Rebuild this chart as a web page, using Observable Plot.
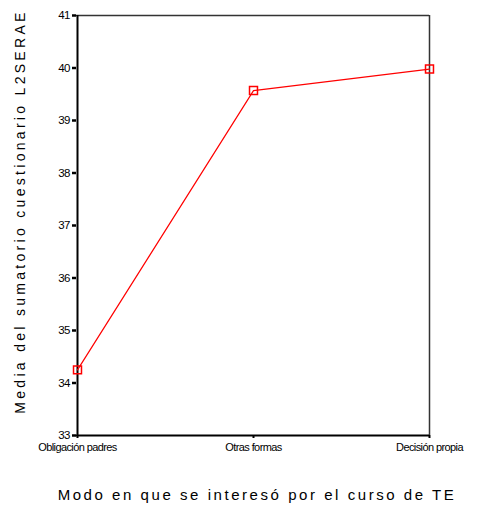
<!DOCTYPE html>
<html>
<head>
<meta charset="utf-8">
<script src="https://cdn.jsdelivr.net/npm/d3@7"></script>
<script src="https://cdn.jsdelivr.net/npm/@observablehq/plot@0.6"></script>
<style>
  html, body { margin: 0; padding: 0; background: #fff; }
  svg { display: block; }
  .ytitle text { letter-spacing: 3.3px; }
  .xtitle text { letter-spacing: 2.55px; }
  .yax text { letter-spacing: -0.8px; }
  .xax text { letter-spacing: -0.6px; }
</style>
</head>
<body>
<div id="chart"></div>
<script>
const categories = ["Obligación padres", "Otras formas", "Decisión propia"];
const means = [34.25, 39.57, 39.98];
const yTicks = [33, 34, 35, 36, 37, 38, 39, 40, 41];
const xTitle = "Modo en que se interesó por el curso de TE";
const yTitle = "Media del sumatorio cuestionario L2SERAE";

const data = categories.map((c, i) => ({cat: c, v: means[i]}));

const chart = Plot.plot({
  width: 481,
  height: 508,
  marginLeft: 76,
  marginRight: 52,
  marginTop: 15,
  marginBottom: 73,
  style: {fontFamily: "Liberation Sans, Arial, sans-serif", background: "#fff"},
  x: {type: "point", domain: categories, padding: 0, label: null},
  y: {domain: [33, 41], label: null},
  marks: [
    Plot.ruleY([41], {stroke: "#333", strokeWidth: 1.5}),
    Plot.ruleX([categories[2]], {stroke: "#333", strokeWidth: 1.5}),
    Plot.axisY({ticks: yTicks, tickSize: 4, tickPadding: 3, fontSize: 11.5, stroke: "#000", strokeWidth: 2.5, tickFormat: d => d, className: "yax"}),
    Plot.axisX({tickSize: 3, tickPadding: 5, fontSize: 11, stroke: "#000", strokeWidth: 2, className: "xax"}),
    Plot.ruleX([categories[0]], {stroke: "#000", strokeWidth: 2}),
    Plot.ruleY([33], {stroke: "#000", strokeWidth: 2}),
    Plot.line(data, {x: "cat", y: "v", stroke: "#ff0000", strokeWidth: 1.2}),
    Plot.dot(data, {x: "cat", y: "v", symbol: "square", r: 4.5, stroke: "#ff0000", strokeWidth: 1.5, fill: "none"}),
    Plot.text([xTitle], {frameAnchor: "bottom", dy: 64, fontSize: 15, fill: "#000", dx: 4, className: "xtitle"}),
    Plot.text([yTitle], {frameAnchor: "left", textAnchor: "middle", dx: -56, dy: -14, rotate: -90, fontSize: 14, fill: "#000", className: "ytitle"})
  ]
});
document.getElementById("chart").appendChild(chart);
</script>
</body>
</html>
